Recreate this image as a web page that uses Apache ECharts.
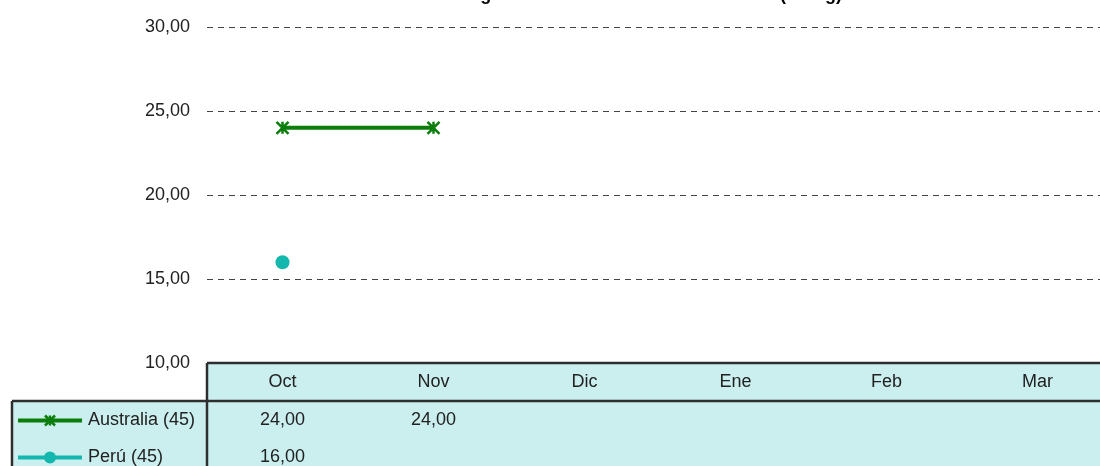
<!DOCTYPE html>
<html>
<head>
<meta charset="utf-8">
<script src="https://cdn.jsdelivr.net/npm/echarts@6/dist/echarts.min.js"></script>
<style>
  html, body { margin: 0; padding: 0; background: #fff; overflow: hidden; }
  #wrap { width: 1100px; height: 466px; overflow: hidden; }
  #chart { width: 1113px; height: 466px; }
</style>
</head>
<body>
<div id="wrap"><div id="chart"></div></div>
<script>
// datos del gráfico
const categories = ['Oct', 'Nov', 'Dic', 'Ene', 'Feb', 'Mar'];
const australia = [24, 24, null, null, null, null];
const peru = [16, null, null, null, null, null];
const seriesNames = ['Australia (45)', 'Perú (45)'];
const titleText = 'Peso Medio de Langostino Entero Seleccionado Total (en Kg)';

const green = '#0b7d0b';
const teal = '#13b7ad';
const tableBg = '#cbefef';
const border = '#2e2e2e';
const font = 'Liberation Sans, Arial, sans-serif';

// formato con coma decimal
function fmt(v) {
  return v.toFixed(2).replace('.', ',');
}

const starPath = 'path://M0,0L10,10M10,0L0,10M5,0L5,10';

const chart = echarts.init(document.getElementById('chart'));

chart.setOption({
  animation: false,
  backgroundColor: '#fff',
  textStyle: { fontFamily: font },
  grid: { left: 207, top: 27, right: 0, height: 336 },
  xAxis: {
    type: 'category',
    data: categories,
    boundaryGap: true,
    axisLine: { show: false },
    axisTick: { show: false },
    axisLabel: { fontSize: 18, color: '#222', margin: 10, fontFamily: font },
    z: 5
  },
  yAxis: {
    type: 'value',
    min: 10,
    max: 30,
    interval: 5,
    axisLine: { show: false },
    axisTick: { show: false },
    axisLabel: { fontSize: 18, color: '#222', margin: 17, formatter: fmt, fontFamily: font },
    splitLine: { lineStyle: { color: '#444', width: 1, type: [6, 5] } }
  },
  series: [
    {
      name: seriesNames[0],
      type: 'line',
      data: australia,
      symbol: starPath,
      symbolSize: 12,
      lineStyle: { color: green, width: 4 },
      itemStyle: { color: green, borderColor: green, borderWidth: 2.5 },
      z: 3
    },
    {
      name: seriesNames[1],
      type: 'line',
      data: peru,
      symbol: 'circle',
      symbolSize: 14,
      lineStyle: { color: teal, width: 4 },
      itemStyle: { color: teal },
      z: 3
    }
  ]
});

// tabla de datos debajo del gráfico
function buildTable() {
  const W = 1113;
  const axisY = chart.convertToPixel({ yAxisIndex: 0 }, 10);
  const sepX = 207;
  const headBottom = 401;
  const rowH = 37;
  const legendLeft = 12;
  const els = [];

  // fondos
  els.push({ type: 'rect', z: -10, shape: { x: sepX, y: axisY, width: W - sepX, height: 466 - axisY }, style: { fill: tableBg } });
  els.push({ type: 'rect', z: -10, shape: { x: legendLeft, y: headBottom, width: sepX - legendLeft, height: 466 - headBottom }, style: { fill: tableBg } });

  // bordes
  const lines = [
    [sepX, axisY, W, axisY],
    [legendLeft, headBottom, W, headBottom],
    [sepX, axisY, sepX, 466],
    [legendLeft, headBottom, legendLeft, 466]
  ];
  lines.forEach(function (l) {
    els.push({ type: 'line', z: 10, shape: { x1: l[0], y1: l[1], x2: l[2], y2: l[3] }, style: { stroke: border, lineWidth: 2.5 } });
  });

  const rows = [
    { name: seriesNames[0], data: australia, color: green, marker: 'star' },
    { name: seriesNames[1], data: peru, color: teal, marker: 'circle' }
  ];
  rows.forEach(function (r, i) {
    const cy = headBottom + rowH / 2 + i * rowH + 1;
    // muestra de leyenda
    els.push({ type: 'line', z: 10, shape: { x1: 18, y1: cy, x2: 82, y2: cy }, style: { stroke: r.color, lineWidth: 4 } });
    if (r.marker === 'circle') {
      els.push({ type: 'circle', z: 11, shape: { cx: 50, cy: cy, r: 6 }, style: { fill: r.color } });
    } else {
      els.push({ type: 'polyline', z: 11, shape: { points: [[45, cy - 5], [55, cy + 5]] }, style: { stroke: r.color, lineWidth: 2.5 } });
      els.push({ type: 'polyline', z: 11, shape: { points: [[55, cy - 5], [45, cy + 5]] }, style: { stroke: r.color, lineWidth: 2.5 } });
      els.push({ type: 'polyline', z: 11, shape: { points: [[50, cy - 5], [50, cy + 5]] }, style: { stroke: r.color, lineWidth: 2.5 } });
    }
    els.push({ type: 'text', z: 11, style: { x: 88, y: cy, text: r.name, font: '18px ' + font, fill: '#222', verticalAlign: 'middle', align: 'left' } });
    // valores
    r.data.forEach(function (v, j) {
      if (v == null) return;
      const cx = chart.convertToPixel({ xAxisIndex: 0 }, categories[j]);
      els.push({ type: 'text', z: 11, style: { x: cx, y: cy, text: fmt(v), font: '18px ' + font, fill: '#222', verticalAlign: 'middle', align: 'center' } });
    });
  });

  // título (cortado arriba)
  els.push({ type: 'text', z: 11, style: { x: 842, y: 4, text: titleText, font: 'bold 18px ' + font, fill: '#000', verticalAlign: 'bottom', align: 'right' } });

  chart.setOption({ graphic: els });
}

buildTable();
</script>
</body>
</html>
